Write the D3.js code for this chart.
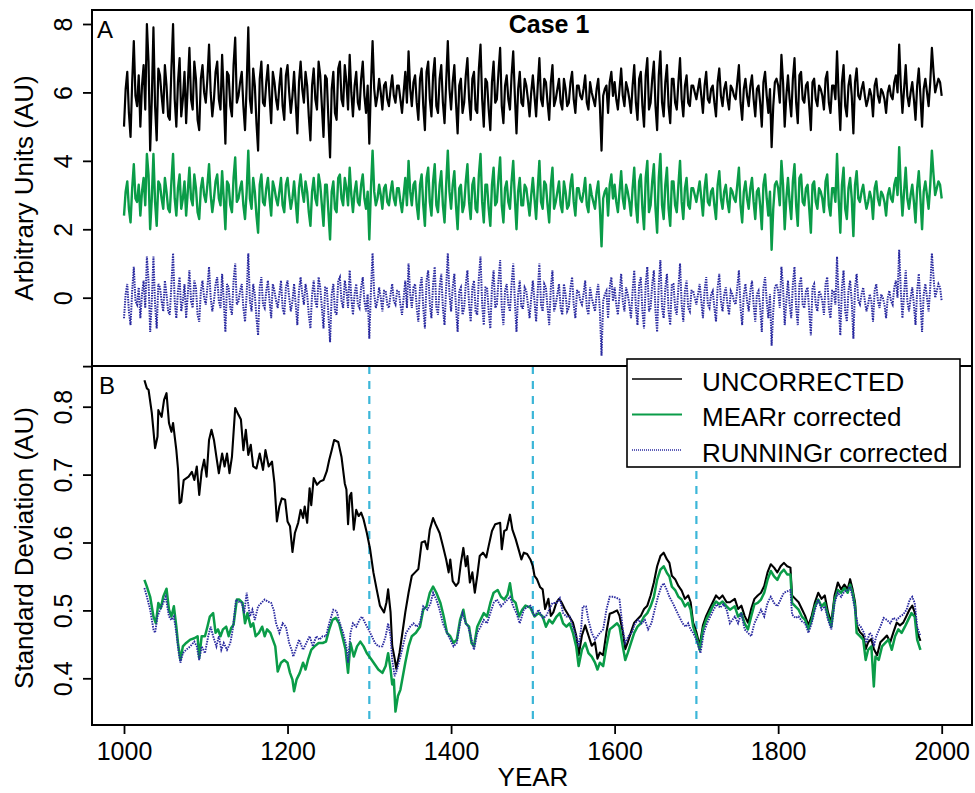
<!DOCTYPE html>
<html><head><meta charset="utf-8">
<script src="https://cdn.jsdelivr.net/npm/d3@7"></script>
<style>
body{margin:0;background:#fff;}
svg{display:block;font-family:"Liberation Sans",Arial,Helvetica,sans-serif;}
</style>
</head><body>
<svg id="chart" width="975" height="793"></svg>
<script>
// ---------------- DATA ----------------
const yearStart = 1000, yearStep = 2;   // panel A sampling grid (years)

const uncorrected = [
5.0,6.1,6.6,5.4,4.7,6.3,7.5,5.9,5.6,6.5,5.0,6.2,6.8,5.5,8.0,6.9,4.3,5.8,7.9,5.6,4.6,6.7,6.5,5.9,5.4,6.8,6.2,5.3,5.2,6.7,8.0,5.8,5.0,6.3,7.0,5.3,5.8,6.6,5.1,6.2,7.3,5.8,5.5,6.9,6.4,5.2,4.9,6.4,6.8,6.0,
5.7,6.4,7.4,6.0,5.3,5.8,6.6,6.9,5.8,5.5,7.1,5.9,4.5,6.6,6.5,5.6,5.3,6.8,7.6,5.7,5.9,6.3,6.6,5.6,4.9,6.2,7.9,5.8,5.4,6.7,6.2,5.1,4.3,6.4,6.9,5.7,5.6,6.3,6.8,5.9,5.1,6.6,6.3,5.8,5.5,6.2,6.7,5.6,5.2,6.5,
6.8,6.0,5.4,5.9,6.6,5.7,4.8,6.3,6.9,6.1,5.7,6.6,6.2,5.3,4.6,6.2,6.7,5.8,5.5,6.9,6.5,5.6,4.7,6.5,6.4,5.2,4.1,6.1,6.6,5.4,5.2,6.7,6.9,5.8,5.6,6.8,6.3,5.5,7.1,6.0,5.3,6.2,6.6,5.7,5.5,6.4,6.9,5.9,5.4,6.2,
4.5,6.2,7.5,6.1,5.6,5.9,6.4,6.0,5.5,6.2,6.3,5.8,5.6,6.1,6.5,5.9,5.7,6.2,6.2,5.8,5.4,6.0,6.6,5.7,7.2,6.1,5.6,6.3,6.5,5.7,5.2,6.4,6.7,5.6,4.9,6.6,6.9,5.8,5.3,6.5,7.0,5.6,5.4,6.4,6.8,5.7,5.1,6.3,7.5,6.1,
5.5,6.3,6.8,5.7,4.8,6.2,6.4,5.4,5.7,6.5,7.0,5.8,5.2,6.4,6.6,5.5,5.4,6.7,7.4,5.8,5.0,6.4,6.3,5.5,4.9,6.3,6.9,5.7,5.8,6.6,7.3,5.6,5.1,6.2,6.5,5.8,5.5,6.5,7.2,5.9,4.8,6.1,6.6,5.7,5.6,6.4,6.2,5.8,5.3,6.0,
6.5,5.9,5.3,6.2,7.0,5.8,5.6,6.4,6.3,5.7,5.2,6.3,6.8,5.6,5.8,6.1,6.4,5.7,5.5,6.4,6.1,5.6,5.7,6.3,6.6,5.8,5.4,6.2,6.2,5.9,5.8,6.1,6.5,5.7,5.5,6.3,6.0,5.8,5.6,6.1,6.4,5.6,4.3,5.9,6.1,6.2,5.4,6.3,6.6,5.9,
6.3,5.8,5.5,6.1,6.7,5.9,5.6,6.3,6.1,5.8,5.4,6.2,6.8,5.7,5.2,6.4,6.6,5.6,5.0,6.5,7.0,5.5,5.7,6.4,6.9,5.6,4.9,6.5,7.2,5.7,5.3,6.3,6.8,5.6,5.1,6.4,6.4,5.7,5.5,6.3,7.0,5.8,5.3,6.2,6.5,5.7,5.6,6.2,6.2,6.0,
5.8,6.1,6.4,5.9,5.4,6.2,6.6,5.8,5.7,6.1,6.2,5.7,5.3,6.3,6.7,5.9,5.6,6.1,6.3,5.8,5.5,6.2,6.1,5.9,5.8,6.3,6.8,5.7,5.2,6.1,6.4,5.9,5.6,6.2,6.5,5.8,5.3,6.1,6.2,5.7,5.0,6.3,6.6,5.9,5.4,6.1,4.4,5.6,6.3,6.4,
6.2,5.7,7.1,6.3,5.0,5.9,6.5,5.8,5.3,6.4,7.0,5.7,5.1,6.5,6.6,5.8,5.7,6.2,6.3,5.6,4.9,6.3,6.4,5.8,5.6,6.2,6.1,5.9,5.5,6.4,6.6,5.7,5.4,6.2,6.2,5.8,7.2,5.9,4.9,6.3,6.8,5.6,5.3,6.2,6.5,5.9,4.8,6.3,6.7,5.9,
5.8,6.1,6.3,5.9,5.6,5.8,6.1,5.9,5.3,6.2,6.4,5.9,5.7,6.1,6.0,5.8,5.4,6.0,6.2,5.9,5.8,6.3,6.5,6.0,7.4,6.2,5.4,6.1,6.8,5.9,5.6,6.0,6.3,5.8,5.2,6.2,6.7,5.9,5.0,6.1,6.4,6.0,5.6,6.3,7.3,6.6,6.0,6.2,6.4,6.3,5.9
];
const mearCorrected = [
2.4,3.1,3.4,2.6,2.2,3.2,3.9,2.9,2.8,3.3,2.4,3.1,3.5,2.7,4.2,3.6,2.0,2.9,4.2,2.8,2.1,3.4,3.3,2.9,2.6,3.5,3.1,2.6,2.5,3.4,4.2,2.9,2.4,3.2,3.6,2.6,2.9,3.4,2.4,3.1,3.8,2.9,2.7,3.6,3.2,2.5,2.3,3.2,3.5,3.0,
2.8,3.3,3.9,3.0,2.5,2.9,3.4,3.6,2.9,2.7,3.7,2.9,2.0,3.4,3.3,2.7,2.5,3.5,4.1,2.8,2.9,3.2,3.4,2.7,2.3,3.1,4.3,2.9,2.6,3.5,3.1,2.4,1.9,3.3,3.6,2.8,2.7,3.2,3.5,2.9,2.4,3.4,3.2,2.9,2.7,3.1,3.5,2.7,2.5,3.3,
3.5,3.0,2.6,2.9,3.4,2.8,2.2,3.2,3.6,3.1,2.8,3.4,3.1,2.5,2.1,3.1,3.5,2.9,2.7,3.6,3.3,2.7,2.1,3.3,3.3,2.5,1.7,3.1,3.4,2.6,2.5,3.5,3.6,2.9,2.7,3.5,3.2,2.7,3.8,3.0,2.5,3.1,3.4,2.8,2.7,3.3,3.6,2.9,2.6,3.1,
1.7,3.2,4.3,3.1,2.7,2.9,3.3,3.0,2.6,3.2,3.3,2.8,2.7,3.1,3.4,2.9,2.7,3.2,3.2,2.8,2.5,3.0,3.5,2.7,4.0,3.1,2.7,3.3,3.4,2.7,2.3,3.3,3.6,2.7,2.1,3.5,3.8,2.8,2.4,3.4,3.9,2.7,2.5,3.3,3.7,2.7,2.2,3.3,4.3,3.1,
2.6,3.3,3.7,2.7,2.0,3.2,3.3,2.5,2.7,3.4,3.9,2.8,2.3,3.3,3.5,2.6,2.5,3.6,4.2,2.8,2.2,3.3,3.3,2.6,2.1,3.3,3.8,2.7,2.8,3.5,4.1,2.7,2.2,3.2,3.4,2.8,2.6,3.4,4.0,2.9,2.0,3.1,3.5,2.7,2.7,3.3,3.2,2.8,2.4,3.0,
3.5,2.9,2.3,3.2,4.0,2.8,2.6,3.4,3.3,2.7,2.2,3.3,3.8,2.6,2.8,3.1,3.4,2.7,2.5,3.4,3.1,2.6,2.7,3.3,3.6,2.8,2.4,3.2,3.2,2.9,2.8,3.1,3.5,2.7,2.5,3.3,3.0,2.8,2.6,3.1,3.4,2.6,1.5,2.9,3.1,3.2,2.4,3.3,3.6,2.9,
3.3,2.8,2.5,3.1,3.7,2.9,2.6,3.3,3.1,2.8,2.4,3.2,3.8,2.7,2.2,3.4,3.6,2.6,2.0,3.5,4.0,2.5,2.7,3.4,3.9,2.6,1.9,3.5,4.2,2.7,2.3,3.3,3.8,2.6,2.1,3.4,3.4,2.7,2.5,3.3,4.0,2.8,2.3,3.2,3.5,2.7,2.6,3.2,3.2,3.0,
2.8,3.1,3.4,2.9,2.4,3.2,3.6,2.8,2.7,3.1,3.2,2.7,2.3,3.3,3.7,2.9,2.6,3.1,3.3,2.8,2.5,3.2,3.1,2.9,2.8,3.3,3.8,2.7,2.2,3.1,3.4,2.9,2.6,3.2,3.5,2.8,2.3,3.1,3.2,2.7,2.0,3.3,3.6,2.9,2.4,3.1,1.4,2.6,3.3,3.4,
3.2,2.7,4.0,3.3,2.0,2.9,3.5,2.8,2.3,3.4,3.9,2.7,2.1,3.5,3.6,2.8,2.7,3.2,3.3,2.6,1.9,3.3,3.4,2.8,2.6,3.2,3.1,2.9,2.5,3.4,3.6,2.7,2.4,3.2,3.2,2.8,4.2,2.9,1.9,3.3,3.8,2.6,2.3,3.2,3.5,2.9,1.8,3.3,3.7,2.9,
2.8,3.1,3.3,2.9,2.6,2.8,3.1,2.9,2.3,3.2,3.4,2.9,2.7,3.1,3.0,2.8,2.4,3.0,3.2,2.9,2.8,3.3,3.5,3.0,4.4,3.2,2.4,3.1,3.8,2.9,2.6,3.0,3.3,2.8,2.2,3.2,3.7,2.9,2.0,3.1,3.4,3.0,2.6,3.3,4.3,3.6,3.0,3.2,3.4,3.3,2.9
];
const runningCorrected = [
-0.6,0.1,0.4,-0.4,-0.8,0.2,0.9,-0.1,-0.2,0.3,-0.6,0.1,0.5,-0.3,1.2,0.5,-1.0,-0.1,1.2,-0.2,-0.9,0.4,0.3,-0.1,-0.4,0.5,0.1,-0.4,-0.5,0.4,1.3,-0.1,-0.6,0.2,0.6,-0.4,-0.1,0.4,-0.6,0.1,0.8,-0.1,-0.3,0.5,0.3,-0.5,-0.7,0.2,0.5,0.0,
-0.2,0.3,0.9,0.0,-0.4,-0.1,0.4,0.6,-0.1,-0.3,0.7,-0.1,-1.0,0.4,0.3,-0.3,-0.5,0.5,1.0,-0.2,-0.1,0.2,0.4,-0.3,-0.7,0.1,1.3,-0.1,-0.4,0.4,0.1,-0.6,-1.1,0.3,0.6,-0.2,-0.3,0.2,0.5,-0.1,-0.6,0.4,0.2,-0.1,-0.3,0.1,0.5,-0.3,-0.5,0.3,
0.5,0.0,-0.4,-0.1,0.4,-0.2,-0.8,0.2,0.6,0.1,-0.2,0.4,0.1,-0.5,-0.9,0.1,0.5,-0.1,-0.3,0.6,0.3,-0.3,-0.9,0.3,0.3,-0.5,-1.3,0.1,0.4,-0.4,-0.5,0.5,0.6,-0.1,-0.3,0.5,0.2,-0.3,0.8,0.0,-0.5,0.1,0.4,-0.2,-0.3,0.3,0.6,-0.1,-0.4,0.1,
-1.2,0.2,1.3,0.1,-0.3,-0.1,0.3,0.0,-0.4,0.2,0.2,-0.2,-0.3,0.1,0.4,-0.1,-0.2,0.2,0.2,-0.2,-0.5,0.0,0.5,-0.3,1.0,0.1,-0.3,0.3,0.4,-0.3,-0.7,0.3,0.6,-0.3,-0.9,0.5,0.8,-0.2,-0.6,0.4,0.9,-0.3,-0.5,0.3,0.7,-0.3,-0.8,0.3,1.3,0.1,
-0.4,0.3,0.7,-0.3,-1.0,0.2,0.3,-0.5,-0.3,0.4,0.8,-0.2,-0.7,0.3,0.5,-0.4,-0.5,0.6,1.2,-0.2,-0.8,0.3,0.3,-0.4,-0.9,0.3,0.8,-0.3,-0.2,0.5,1.1,-0.3,-0.8,0.2,0.4,-0.2,-0.4,0.4,1.0,-0.1,-1.0,0.1,0.5,-0.3,-0.3,0.3,0.2,-0.2,-0.6,0.0,
0.5,-0.1,-0.7,0.2,1.0,-0.2,-0.4,0.4,0.3,-0.3,-0.8,0.3,0.8,-0.4,-0.2,0.1,0.4,-0.3,-0.5,0.4,0.1,-0.4,-0.3,0.3,0.6,-0.2,-0.6,0.2,0.2,-0.1,-0.2,0.1,0.5,-0.3,-0.5,0.3,0.0,-0.2,-0.4,0.1,0.4,-0.4,-1.7,-0.1,0.1,0.2,-0.6,0.3,0.6,-0.1,
0.3,-0.2,-0.5,0.1,0.7,-0.1,-0.4,0.3,0.1,-0.2,-0.6,0.2,0.8,-0.3,-0.8,0.4,0.6,-0.4,-0.9,0.4,0.9,-0.4,-0.3,0.4,0.8,-0.4,-1.0,0.4,1.1,-0.3,-0.6,0.3,0.7,-0.4,-0.8,0.4,0.4,-0.3,-0.5,0.3,1.0,-0.2,-0.7,0.2,0.5,-0.3,-0.4,0.2,0.2,0.0,
-0.2,0.1,0.4,-0.1,-0.6,0.2,0.6,-0.2,-0.3,0.1,0.2,-0.3,-0.7,0.3,0.7,-0.1,-0.4,0.1,0.3,-0.2,-0.5,0.2,0.1,-0.1,-0.2,0.3,0.8,-0.3,-0.8,0.1,0.4,-0.1,-0.4,0.2,0.5,-0.2,-0.7,0.1,0.2,-0.3,-1.0,0.3,0.6,-0.1,-0.6,0.1,-1.4,-0.4,0.3,0.4,
0.2,-0.3,0.9,0.3,-0.8,-0.1,0.5,-0.2,-0.6,0.4,0.9,-0.3,-0.8,0.4,0.6,-0.2,-0.3,0.2,0.3,-0.4,-1.1,0.3,0.4,-0.2,-0.4,0.2,0.1,-0.1,-0.5,0.4,0.6,-0.3,-0.6,0.2,0.2,-0.2,1.2,-0.1,-1.1,0.3,0.8,-0.4,-0.7,0.2,0.5,-0.1,-1.2,0.3,0.7,-0.1,
-0.2,0.1,0.3,-0.1,-0.4,-0.2,0.1,-0.1,-0.7,0.2,0.4,-0.1,-0.3,0.1,0.0,-0.2,-0.6,0.0,0.2,-0.1,-0.2,0.3,0.5,0.0,1.4,0.2,-0.6,0.1,0.8,-0.1,-0.4,0.0,0.3,-0.2,-0.8,0.2,0.7,-0.1,-1.0,0.1,0.4,0.0,-0.4,0.3,1.3,0.6,0.0,0.2,0.4,0.3,-0.1
];

// panel B: running standard deviation, [year, SD]
const sdUncorrected = [[1025,0.839],[1028,0.827],[1030,0.825],[1034,0.791],[1038,0.739],[1041,0.756],[1042,0.795],[1046,0.785],[1049,0.81],[1052,0.82],[1055,0.776],[1058,0.763],[1060,0.776],[1064,0.736],[1066,0.709],[1068,0.658],[1070,0.66],[1073,0.692],[1079,0.697],[1083,0.704],[1086,0.692],[1089,0.712],[1092,0.670],[1095,0.705],[1098,0.722],[1101,0.697],[1104,0.751],[1107,0.766],[1110,0.751],[1113,0.726],[1116,0.702],[1120,0.731],[1123,0.712],[1126,0.731],[1129,0.702],[1132,0.726],[1136,0.798],[1140,0.788],[1143,0.781],[1146,0.736],[1149,0.766],[1152,0.729],[1155,0.744],[1158,0.712],[1162,0.709],[1166,0.731],[1170,0.707],[1173,0.736],[1177,0.712],[1181,0.719],[1184,0.687],[1187,0.631],[1190,0.653],[1193,0.665],[1197,0.663],[1200,0.631],[1203,0.624],[1206,0.586],[1209,0.614],[1213,0.629],[1216,0.648],[1219,0.636],[1221,0.653],[1224,0.629],[1227,0.680],[1229,0.655],[1232,0.695],[1236,0.685],[1240,0.690],[1244,0.692],[1248,0.705],[1251,0.722],[1254,0.736],[1257,0.751],[1262,0.748],[1266,0.726],[1270,0.687],[1272,0.678],[1274,0.627],[1276,0.668],[1278,0.673],[1281,0.619],[1284,0.648],[1287,0.639],[1290,0.644],[1293,0.634],[1297,0.614],[1301,0.590],[1305,0.556],[1309,0.531],[1313,0.507],[1318,0.497],[1321,0.512],[1323,0.531],[1326,0.497],[1328,0.448],[1331,0.429],[1333,0.414],[1337,0.438],[1340,0.463],[1344,0.497],[1348,0.526],[1352,0.551],[1356,0.556],[1360,0.561],[1364,0.600],[1368,0.602],[1371,0.590],[1374,0.619],[1378,0.636],[1381,0.627],[1386,0.614],[1390,0.595],[1394,0.575],[1397,0.556],[1399,0.575],[1402,0.543],[1406,0.536],[1409,0.541],[1412,0.570],[1415,0.592],[1418,0.565],[1420,0.580],[1423,0.541],[1426,0.556],[1429,0.526],[1432,0.551],[1435,0.580],[1439,0.585],[1443,0.578],[1446,0.595],[1450,0.617],[1454,0.627],[1460,0.629],[1462,0.590],[1465,0.617],[1468,0.619],[1472,0.641],[1475,0.619],[1479,0.605],[1483,0.588],[1486,0.575],[1489,0.585],[1493,0.583],[1497,0.575],[1500,0.565],[1502,0.551],[1505,0.546],[1509,0.534],[1512,0.531],[1515,0.502],[1519,0.517],[1522,0.492],[1525,0.497],[1529,0.512],[1532,0.517],[1535,0.512],[1539,0.502],[1544,0.492],[1549,0.482],[1553,0.463],[1556,0.434],[1560,0.463],[1564,0.478],[1568,0.463],[1572,0.448],[1576,0.453],[1579,0.429],[1582,0.438],[1586,0.434],[1590,0.468],[1594,0.495],[1598,0.497],[1603,0.500],[1606,0.492],[1610,0.468],[1613,0.443],[1616,0.453],[1620,0.468],[1624,0.482],[1628,0.487],[1632,0.492],[1636,0.502],[1640,0.507],[1644,0.522],[1648,0.541],[1652,0.565],[1656,0.580],[1660,0.585],[1664,0.575],[1667,0.570],[1670,0.551],[1674,0.546],[1678,0.536],[1682,0.529],[1686,0.517],[1690,0.522],[1693,0.512],[1696,0.482],[1700,0.468],[1704,0.448],[1708,0.478],[1712,0.492],[1716,0.502],[1720,0.512],[1724,0.522],[1728,0.517],[1732,0.522],[1737,0.512],[1741,0.512],[1747,0.517],[1751,0.502],[1755,0.507],[1759,0.492],[1763,0.482],[1767,0.502],[1771,0.517],[1775,0.522],[1779,0.526],[1783,0.536],[1787,0.556],[1791,0.568],[1795,0.563],[1799,0.556],[1803,0.565],[1807,0.570],[1811,0.565],[1815,0.563],[1817,0.522],[1821,0.517],[1825,0.512],[1829,0.502],[1833,0.492],[1837,0.478],[1841,0.492],[1845,0.512],[1849,0.526],[1853,0.517],[1857,0.522],[1861,0.497],[1865,0.482],[1869,0.522],[1873,0.541],[1877,0.531],[1881,0.538],[1885,0.531],[1888,0.546],[1891,0.531],[1894,0.512],[1896,0.478],[1900,0.468],[1904,0.463],[1907,0.443],[1910,0.453],[1914,0.458],[1917,0.443],[1921,0.434],[1925,0.453],[1929,0.458],[1933,0.463],[1937,0.453],[1941,0.468],[1945,0.482],[1949,0.478],[1953,0.482],[1957,0.492],[1961,0.502],[1964,0.507],[1967,0.497],[1970,0.468],[1974,0.455]];

const sdMear = [[1025,0.545],[1028,0.535],[1032,0.520],[1036,0.491],[1039,0.481],[1042,0.511],[1045,0.503],[1048,0.520],[1052,0.532],[1055,0.501],[1058,0.491],[1061,0.506],[1064,0.476],[1066,0.452],[1069,0.427],[1072,0.447],[1076,0.452],[1081,0.457],[1086,0.459],[1090,0.462],[1092,0.430],[1095,0.462],[1099,0.462],[1102,0.476],[1105,0.491],[1109,0.496],[1112,0.467],[1115,0.472],[1118,0.462],[1121,0.472],[1125,0.476],[1128,0.462],[1131,0.474],[1134,0.479],[1138,0.516],[1141,0.516],[1145,0.511],[1148,0.481],[1151,0.496],[1155,0.476],[1158,0.481],[1161,0.462],[1165,0.467],[1169,0.476],[1172,0.462],[1175,0.472],[1179,0.467],[1182,0.457],[1185,0.447],[1188,0.410],[1192,0.423],[1196,0.427],[1200,0.423],[1203,0.408],[1206,0.398],[1208,0.381],[1211,0.398],[1215,0.408],[1219,0.423],[1222,0.413],[1225,0.427],[1229,0.442],[1233,0.447],[1238,0.452],[1243,0.452],[1247,0.454],[1251,0.472],[1255,0.486],[1259,0.489],[1263,0.481],[1267,0.462],[1271,0.442],[1274,0.408],[1277,0.452],[1281,0.432],[1285,0.447],[1289,0.454],[1293,0.447],[1297,0.437],[1303,0.427],[1307,0.420],[1311,0.413],[1316,0.408],[1320,0.418],[1323,0.437],[1326,0.413],[1328,0.391],[1330,0.398],[1332,0.351],[1335,0.374],[1338,0.383],[1341,0.403],[1344,0.423],[1348,0.447],[1352,0.462],[1357,0.467],[1362,0.476],[1366,0.501],[1370,0.506],[1374,0.526],[1378,0.535],[1382,0.526],[1387,0.511],[1391,0.491],[1395,0.467],[1399,0.462],[1403,0.452],[1407,0.457],[1411,0.486],[1415,0.501],[1418,0.481],[1422,0.476],[1425,0.452],[1428,0.447],[1432,0.476],[1436,0.486],[1440,0.496],[1444,0.491],[1448,0.511],[1452,0.526],[1457,0.530],[1461,0.520],[1465,0.516],[1469,0.523],[1472,0.540],[1475,0.516],[1479,0.511],[1483,0.491],[1487,0.501],[1491,0.507],[1497,0.504],[1502,0.491],[1507,0.496],[1512,0.491],[1516,0.476],[1520,0.486],[1524,0.481],[1529,0.491],[1533,0.496],[1537,0.481],[1541,0.476],[1545,0.481],[1549,0.467],[1553,0.447],[1556,0.418],[1560,0.442],[1564,0.452],[1568,0.437],[1572,0.432],[1576,0.423],[1579,0.413],[1582,0.423],[1586,0.418],[1590,0.447],[1594,0.472],[1598,0.476],[1603,0.481],[1606,0.476],[1610,0.447],[1613,0.427],[1616,0.437],[1620,0.452],[1624,0.467],[1628,0.476],[1632,0.481],[1636,0.491],[1640,0.496],[1644,0.506],[1648,0.520],[1652,0.545],[1656,0.560],[1660,0.565],[1664,0.555],[1667,0.550],[1670,0.535],[1674,0.530],[1678,0.520],[1682,0.516],[1686,0.506],[1690,0.511],[1693,0.501],[1696,0.476],[1700,0.462],[1704,0.442],[1708,0.472],[1712,0.486],[1716,0.496],[1720,0.506],[1724,0.513],[1728,0.509],[1732,0.513],[1737,0.506],[1741,0.501],[1747,0.506],[1751,0.491],[1755,0.496],[1759,0.481],[1763,0.472],[1767,0.491],[1771,0.509],[1775,0.511],[1779,0.516],[1783,0.526],[1787,0.545],[1791,0.558],[1795,0.550],[1799,0.545],[1803,0.555],[1807,0.560],[1811,0.553],[1815,0.553],[1817,0.511],[1821,0.506],[1825,0.501],[1829,0.491],[1833,0.486],[1837,0.472],[1841,0.486],[1845,0.506],[1849,0.516],[1853,0.506],[1857,0.511],[1861,0.491],[1865,0.476],[1869,0.516],[1873,0.530],[1877,0.526],[1881,0.533],[1885,0.526],[1888,0.538],[1891,0.526],[1894,0.506],[1896,0.467],[1900,0.462],[1904,0.457],[1907,0.427],[1910,0.442],[1914,0.447],[1917,0.388],[1919,0.432],[1923,0.427],[1927,0.447],[1931,0.452],[1935,0.457],[1939,0.442],[1943,0.462],[1947,0.472],[1951,0.467],[1955,0.476],[1959,0.486],[1963,0.496],[1967,0.491],[1970,0.457],[1974,0.442]];

const sdRunning = [[1025,0.533],[1028,0.520],[1032,0.501],[1036,0.472],[1038,0.467],[1041,0.491],[1044,0.501],[1048,0.511],[1051,0.520],[1055,0.491],[1058,0.486],[1061,0.491],[1064,0.467],[1067,0.437],[1069,0.423],[1072,0.437],[1076,0.442],[1081,0.447],[1086,0.454],[1089,0.447],[1092,0.427],[1095,0.447],[1099,0.437],[1103,0.462],[1106,0.476],[1109,0.462],[1113,0.447],[1116,0.462],[1119,0.442],[1122,0.452],[1126,0.442],[1130,0.452],[1133,0.472],[1137,0.516],[1140,0.513],[1144,0.511],[1147,0.496],[1150,0.526],[1154,0.491],[1157,0.501],[1160,0.486],[1164,0.506],[1168,0.511],[1172,0.516],[1176,0.513],[1180,0.511],[1183,0.501],[1186,0.481],[1190,0.467],[1194,0.481],[1198,0.476],[1202,0.452],[1205,0.442],[1207,0.432],[1210,0.442],[1214,0.457],[1219,0.442],[1223,0.452],[1227,0.462],[1231,0.447],[1235,0.462],[1239,0.457],[1243,0.462],[1247,0.462],[1251,0.481],[1256,0.501],[1260,0.499],[1264,0.481],[1268,0.467],[1272,0.447],[1274,0.423],[1277,0.467],[1280,0.481],[1284,0.476],[1288,0.486],[1291,0.491],[1295,0.481],[1299,0.472],[1303,0.462],[1307,0.452],[1311,0.447],[1316,0.447],[1320,0.462],[1323,0.481],[1326,0.462],[1328,0.427],[1331,0.403],[1334,0.413],[1337,0.427],[1341,0.447],[1345,0.467],[1350,0.476],[1354,0.481],[1358,0.476],[1362,0.481],[1366,0.506],[1371,0.501],[1375,0.511],[1378,0.526],[1382,0.516],[1386,0.501],[1390,0.481],[1395,0.467],[1399,0.457],[1403,0.447],[1407,0.452],[1411,0.481],[1414,0.496],[1418,0.481],[1421,0.476],[1425,0.457],[1428,0.442],[1432,0.467],[1436,0.476],[1440,0.486],[1444,0.481],[1448,0.496],[1452,0.511],[1456,0.516],[1461,0.506],[1465,0.511],[1469,0.516],[1472,0.520],[1476,0.506],[1480,0.496],[1484,0.481],[1489,0.501],[1493,0.505],[1497,0.507],[1502,0.491],[1507,0.501],[1512,0.489],[1516,0.491],[1520,0.501],[1524,0.511],[1529,0.511],[1533,0.518],[1537,0.496],[1541,0.491],[1545,0.491],[1549,0.476],[1553,0.462],[1556,0.447],[1559,0.472],[1561,0.506],[1565,0.506],[1568,0.486],[1572,0.467],[1576,0.457],[1579,0.462],[1582,0.467],[1586,0.472],[1590,0.501],[1594,0.520],[1599,0.520],[1603,0.518],[1606,0.516],[1610,0.472],[1613,0.452],[1617,0.462],[1621,0.467],[1625,0.481],[1629,0.486],[1633,0.481],[1637,0.486],[1641,0.472],[1645,0.481],[1649,0.501],[1653,0.520],[1657,0.535],[1660,0.540],[1664,0.530],[1667,0.520],[1671,0.511],[1675,0.501],[1679,0.491],[1683,0.481],[1687,0.476],[1690,0.481],[1693,0.472],[1696,0.467],[1700,0.457],[1705,0.437],[1709,0.467],[1713,0.481],[1717,0.491],[1721,0.501],[1725,0.509],[1729,0.504],[1733,0.509],[1737,0.501],[1741,0.481],[1747,0.491],[1751,0.481],[1755,0.496],[1759,0.472],[1763,0.467],[1767,0.462],[1771,0.481],[1775,0.491],[1779,0.501],[1783,0.491],[1787,0.511],[1791,0.520],[1795,0.511],[1799,0.506],[1803,0.516],[1807,0.526],[1811,0.528],[1815,0.530],[1817,0.494],[1821,0.489],[1825,0.491],[1829,0.484],[1833,0.481],[1837,0.467],[1841,0.481],[1845,0.501],[1849,0.516],[1853,0.501],[1857,0.506],[1861,0.486],[1865,0.472],[1869,0.511],[1873,0.526],[1877,0.520],[1881,0.528],[1885,0.530],[1888,0.535],[1891,0.520],[1894,0.501],[1897,0.481],[1901,0.476],[1905,0.467],[1908,0.452],[1912,0.467],[1915,0.462],[1917,0.447],[1920,0.462],[1925,0.476],[1929,0.489],[1933,0.486],[1937,0.481],[1941,0.489],[1945,0.486],[1949,0.491],[1953,0.494],[1957,0.501],[1961,0.516],[1964,0.520],[1967,0.511],[1970,0.476],[1974,0.462]];

const xTicks = [1000, 1200, 1400, 1600, 1800, 2000];
const yTicksA = [-2, 0, 2, 4, 6, 8];
const yTickLabelsA = ["", "0", "2", "4", "6", "8"];
const yTicksB = [0.4, 0.5, 0.6, 0.7, 0.8];
const breakYears = [1300, 1500, 1700];
const legendLabels = ["UNCORRECTED", "MEARr corrected", "RUNNINGr corrected"];

// ---------------- LAYOUT / STYLE ----------------
const L = 92, R = 972, TOP = 10, MID = 366, BOT = 725;
const C_BLACK = "#000000", C_GREEN = "#0a9c48", C_BLUE = "#2a2aa0", C_CYAN = "#3cb6d8";
const FONT = 25;

const svg = d3.select("#chart");
svg.append("rect").attr("width", 975).attr("height", 793).attr("fill", "#fff");

const x = d3.scaleLinear().domain([1000, 2000]).range([124, 941.7]);
const yA = d3.scaleLinear().domain([0, 8]).range([297.7, 24]);
const yB = d3.scaleLinear().domain([0.4, 0.8]).range([678.3, 406.7]);

const toPts = arr => arr.map((v, i) => [yearStart + i * yearStep, v]);

const defs = svg.append("defs");
defs.append("clipPath").attr("id", "clipA").append("rect").attr("x", L).attr("y", TOP).attr("width", R - L).attr("height", MID - TOP);
defs.append("clipPath").attr("id", "clipB").append("rect").attr("x", L).attr("y", MID).attr("width", R - L).attr("height", BOT - MID);

// ---- Panel A ----
const lineA = d3.line().x(d => x(d[0])).y(d => yA(d[1]));
const gA = svg.append("g").attr("clip-path", "url(#clipA)");
gA.append("path").datum(toPts(uncorrected)).attr("d", lineA)
  .attr("fill", "none").attr("stroke", C_BLACK).attr("stroke-width", 2.2).attr("stroke-linejoin", "round");
gA.append("path").datum(toPts(mearCorrected)).attr("d", lineA)
  .attr("fill", "none").attr("stroke", C_GREEN).attr("stroke-width", 2.4).attr("stroke-linejoin", "round");
gA.append("path").datum(toPts(runningCorrected)).attr("d", lineA)
  .attr("fill", "none").attr("stroke", C_BLUE).attr("stroke-width", 2).attr("stroke-dasharray", "1.5,1.1");

// ---- Panel B ----
const lineB = d3.line().x(d => x(d[0])).y(d => yB(d[1]));
const gB = svg.append("g").attr("clip-path", "url(#clipB)");
gB.selectAll("line.brk").data(breakYears).join("line").attr("class", "brk")
  .attr("x1", d => x(d)).attr("x2", d => x(d)).attr("y1", MID).attr("y2", BOT)
  .attr("stroke", C_CYAN).attr("stroke-width", 2.2).attr("stroke-dasharray", "8,7");
gB.append("path").datum(sdUncorrected).attr("d", lineB)
  .attr("fill", "none").attr("stroke", C_BLACK).attr("stroke-width", 2.1).attr("stroke-linejoin", "round");
gB.append("path").datum(sdMear).attr("d", lineB)
  .attr("fill", "none").attr("stroke", C_GREEN).attr("stroke-width", 2.5).attr("stroke-linejoin", "round");
gB.append("path").datum(sdRunning).attr("d", lineB)
  .attr("fill", "none").attr("stroke", C_BLUE).attr("stroke-width", 1.9).attr("stroke-dasharray", "1.5,1.1");

// ---- Frames ----
svg.append("rect").attr("x", L).attr("y", TOP).attr("width", R - L).attr("height", MID - TOP)
  .attr("fill", "none").attr("stroke", "#000").attr("stroke-width", 2);
svg.append("rect").attr("x", L).attr("y", MID).attr("width", R - L).attr("height", BOT - MID)
  .attr("fill", "none").attr("stroke", "#000").attr("stroke-width", 2);

// ---- Axes ----
function styleAxis(g) {
  g.select(".domain").remove();
  g.selectAll(".tick line").attr("stroke", "#000").attr("stroke-width", 1.8);
  g.selectAll(".tick text").attr("fill", "#000").style("font-size", FONT + "px")
    .style("font-family", '"Liberation Sans", Arial, Helvetica, sans-serif');
}
const axA = svg.append("g").attr("transform", `translate(${L},0)`)
  .call(d3.axisLeft(yA).tickValues(yTicksA).tickSize(9).tickFormat((d, i) => yTickLabelsA[i]));
styleAxis(axA);
axA.selectAll(".tick text").attr("x", null).attr("dy", null).attr("y", null)
  .attr("text-anchor", "middle").attr("transform", "translate(-20,0) rotate(-90)");

const axB = svg.append("g").attr("transform", `translate(${L},0)`)
  .call(d3.axisLeft(yB).tickValues(yTicksB).tickSize(9).tickFormat(d3.format(".1f")));
styleAxis(axB);
axB.selectAll(".tick text").attr("x", null).attr("dy", null).attr("y", null)
  .attr("text-anchor", "middle").attr("transform", "translate(-20,0) rotate(-90)");

const axX = svg.append("g").attr("transform", `translate(0,${BOT})`)
  .call(d3.axisBottom(x).tickValues(xTicks).tickSize(9).tickFormat(d3.format("d")));
styleAxis(axX);
axX.selectAll(".tick text").attr("y", 35).attr("dy", null);

// ---- Axis titles ----
svg.append("text").attr("transform", `translate(33,188) rotate(-90)`).attr("text-anchor", "middle")
  .style("font-size", "26px").text("Arbitrary Units (AU)");
svg.append("text").attr("transform", `translate(33,548) rotate(-90)`).attr("text-anchor", "middle")
  .style("font-size", "26px").text("Standard Deviation (AU)");
svg.append("text").attr("x", 533).attr("y", 786).attr("text-anchor", "middle")
  .style("font-size", "26px").text("YEAR");

// ---- Panel labels / title ----
svg.append("text").attr("x", 97).attr("y", 38).style("font-size", "24px").text("A");
svg.append("text").attr("x", 99).attr("y", 394).style("font-size", "24px").text("B");
svg.append("text").attr("x", 549).attr("y", 33).attr("text-anchor", "middle")
  .style("font-size", "25px").style("font-weight", "bold").text("Case 1");

// ---- Legend ----
const lg = svg.append("g");
lg.append("rect").attr("x", 627).attr("y", 359).attr("width", 333).attr("height", 108)
  .attr("fill", "#fff").attr("stroke", "#000").attr("stroke-width", 1.6);
const legendStyles = [
  {c: C_BLACK, w: 1.6, dash: null},
  {c: C_GREEN, w: 2.2, dash: null},
  {c: C_BLUE, w: 1.5, dash: "1,1"}
];
const legendY = [379, 414.5, 450];
legendLabels.forEach((lab, i) => {
  const s = legendStyles[i];
  lg.append("line").attr("x1", 632).attr("x2", 682).attr("y1", legendY[i]).attr("y2", legendY[i])
    .attr("stroke", s.c).attr("stroke-width", s.w).attr("stroke-dasharray", s.dash);
  lg.append("text").attr("x", 702).attr("y", legendY[i] + 5).attr("dominant-baseline", "middle")
    .style("font-size", "26px").text(lab);
});
</script>
</body></html>
